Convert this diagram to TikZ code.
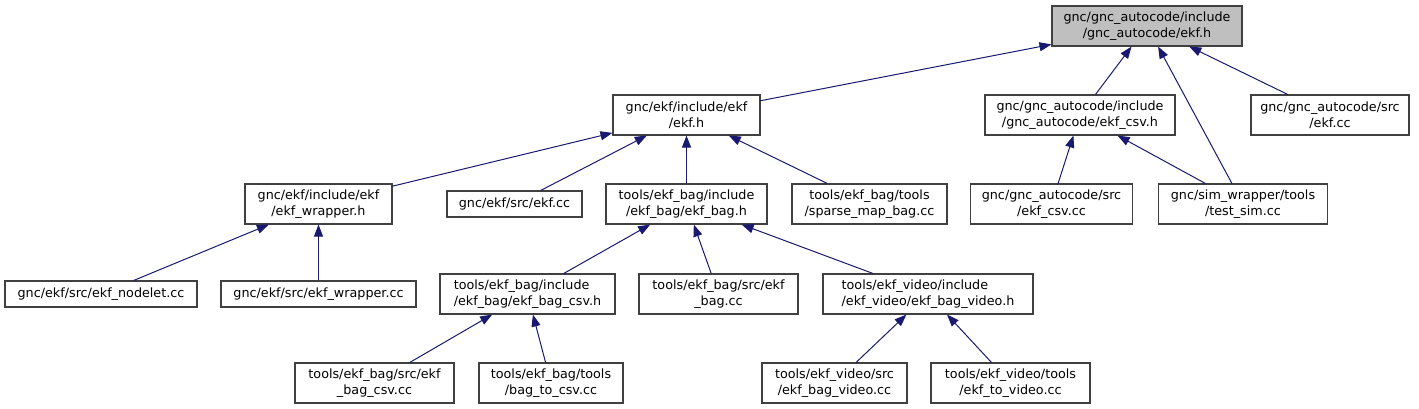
\documentclass[tikz,border=0pt]{standalone}
\usepackage{fontspec}
\setmainfont{DejaVu Sans}
\usetikzlibrary{arrows.meta}
\definecolor{edgecol}{HTML}{191970}
\definecolor{bordercol}{HTML}{404040}
\definecolor{rootfill}{HTML}{BFBFBF}
\tikzset{
  box/.style={draw=bordercol, line width=1.1pt, fill=white, inner sep=2pt,
    minimum height=40pt, align=center,
    font=\fontsize{12.75}{16}\selectfont},
  onebox/.style={box, minimum height=26pt},
  lbox/.style={box, align=left},
  root/.style={box, fill=rootfill},
  edge/.style={draw=edgecol, line width=1pt,
    -{Triangle[length=12pt,width=9pt,fill=edgecol]}},
}
\begin{document}
\begin{tikzpicture}[x=1pt,y=1pt]
\useasboundingbox (0,0) rectangle (1419,-409);
% row 1
\node[root, minimum width=190] (top) at (1147,-26) {gnc/gnc\_autocode/include\\/gnc\_autocode/ekf.h};
% row 2
\node[box, minimum width=147] (ekfh) at (686.5,-115) {gnc/ekf/include/ekf\\/ekf.h};
\node[box, minimum width=190] (csvh) at (1080,-115) {gnc/gnc\_autocode/include\\/gnc\_autocode/ekf\_csv.h};
\node[box, minimum width=158] (srcekf) at (1330,-115) {gnc/gnc\_autocode/src\\/ekf.cc};
% row 3
\node[box, minimum width=147] (wraph) at (318.5,-204) {gnc/ekf/include/ekf\\/ekf\_wrapper.h};
\node[onebox, minimum width=135] (ekfcc) at (514.5,-204) {gnc/ekf/src/ekf.cc};
\node[box, minimum width=161] (bagh) at (686.5,-204) {tools/ekf\_bag/include\\/ekf\_bag/ekf\_bag.h};
\node[box, minimum width=155] (sparse) at (869.5,-204) {tools/ekf\_bag/tools\\/sparse\_map\_bag.cc};
\node[box, minimum width=162] (csvcc) at (1051.5,-204) {gnc/gnc\_autocode/src\\/ekf\_csv.cc};
\node[box, minimum width=169] (testsim) at (1243,-204) {gnc/sim\_wrapper/tools\\/test\_sim.cc};
% row 4
\node[onebox, minimum width=192] (nodelet) at (101,-294) {gnc/ekf/src/ekf\_nodelet.cc};
\node[onebox, minimum width=195] (wrapcc) at (318.5,-294) {gnc/ekf/src/ekf\_wrapper.cc};
\node[lbox, minimum width=175] (bagcsvh) at (527.5,-294) {tools/ekf\_bag/include\\/ekf\_bag/ekf\_bag\_csv.h};
\node[box, minimum width=159] (bagcc) at (718.5,-294) {tools/ekf\_bag/src/ekf\\\_bag.cc};
\node[lbox, minimum width=210] (videoh) at (928,-294) {tools/ekf\_video/include\\/ekf\_video/ekf\_bag\_video.h};
% row 5
\node[box, minimum width=159] (bagcsvcc) at (374.5,-383) {tools/ekf\_bag/src/ekf\\\_bag\_csv.cc};
\node[box, minimum width=144] (tocsv) at (551,-383) {tools/ekf\_bag/tools\\/bag\_to\_csv.cc};
\node[box, minimum width=145] (videocc) at (834.5,-383) {tools/ekf\_video/src\\/ekf\_bag\_video.cc};
\node[box, minimum width=159] (tovideo) at (1010.5,-383) {tools/ekf\_video/tools\\/ekf\_to\_video.cc};
% edges
\draw[edge] (ekfh) -- (top);
\draw[edge] (csvh) -- (top);
\draw[edge] (srcekf) -- (top);
\draw[edge] (testsim) -- (top);
\draw[edge] (wraph) -- (ekfh);
\draw[edge] (ekfcc) -- (ekfh);
\draw[edge] (bagh) -- (ekfh);
\draw[edge] (sparse) -- (ekfh);
\draw[edge] (csvcc) -- (csvh);
\draw[edge] (testsim) -- (csvh);
\draw[edge] (nodelet) -- (wraph);
\draw[edge] (wrapcc) -- (wraph);
\draw[edge] (bagcsvh) -- (bagh);
\draw[edge] (bagcc) -- (bagh);
\draw[edge] (videoh) -- (bagh);
\draw[edge] (bagcsvcc) -- (bagcsvh);
\draw[edge] (tocsv) -- (bagcsvh);
\draw[edge] (videocc) -- (videoh);
\draw[edge] (tovideo) -- (videoh);
\end{tikzpicture}
\end{document}
